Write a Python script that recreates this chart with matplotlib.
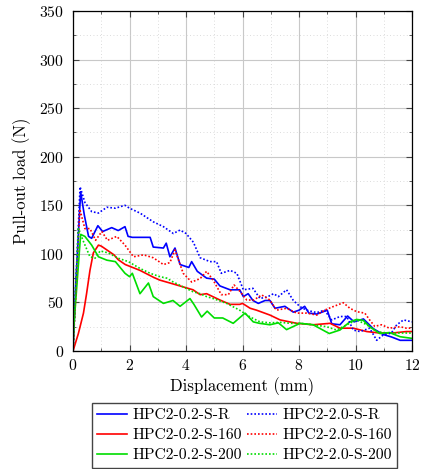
import matplotlib
matplotlib.use("Agg")
import matplotlib.pyplot as plt
from matplotlib.ticker import MultipleLocator

plt.rcParams['font.family'] = 'serif'
plt.rcParams['font.serif'] = ['cmr10']
plt.rcParams['mathtext.fontset'] = 'cm'
plt.rcParams['axes.formatter.use_mathtext'] = True

# HPC2-0.2-S-R
x_02_R = [0, 0.1, 0.27, 0.4, 0.55, 0.66, 0.88, 1.05, 1.37, 1.6, 1.84, 1.95, 2.1, 2.37, 2.73, 2.84,
          3.2, 3.3, 3.43, 3.61, 3.79, 4.1, 4.2, 4.4, 4.73, 5.0, 5.2, 5.56, 5.9, 6.03, 6.2, 6.37,
          6.56, 6.8, 6.97, 7.15, 7.5, 7.8, 8.0, 8.2, 8.35, 8.63, 9.0, 9.16, 9.45, 9.72, 9.95,
          10.28, 10.63, 10.98, 11.27, 11.58, 12]
y_02_R = [0, 70, 164, 140, 118, 116, 129, 123, 127, 124, 128, 118, 117, 117, 117, 107,
          106, 111, 97, 106, 89, 86, 92, 82, 75, 74, 67, 63, 63, 56, 59, 52,
          49, 52, 52, 44, 46, 40, 42, 46, 39, 38, 42, 28, 27, 36, 30,
          33, 23, 17, 14.5, 11, 11]

# HPC2-0.2-S-160
x_02_160 = [0, 0.19, 0.37, 0.48, 0.6, 0.72, 0.9, 1.0, 1.2, 1.45, 1.6, 1.85, 2.37, 2.84, 3.07, 3.43,
            3.9, 4.25, 4.5, 4.73, 5.2, 5.56, 5.9, 6.0, 6.27, 6.5, 6.97, 7.33, 7.92, 8.5, 9.1,
            9.45, 9.92, 10.4, 10.86, 11.3, 11.8, 12]
y_02_160 = [0, 18, 39, 59, 83, 101, 109, 108, 104, 99, 94, 89, 83, 76, 73, 70,
            66, 63, 58, 59, 52.5, 48, 48, 49, 44, 42, 37, 32, 28.5, 27, 28.5,
            23.5, 23.5, 20, 18.5, 18.5, 20, 20]

# HPC2-0.2-S-200
x_02_200 = [0, 0.03, 0.08, 0.27, 0.42, 0.66, 0.9, 1.2, 1.5, 1.84, 2.0, 2.1, 2.37, 2.67, 2.84, 3.2,
            3.54, 3.79, 4.14, 4.28, 4.55, 4.75, 5.0, 5.3, 5.67, 6.09, 6.38, 6.6, 6.97, 7.27,
            7.56, 8.04, 8.5, 9.07, 9.45, 9.8, 10.04, 10.27, 10.5, 10.86, 11.2, 11.58, 12]
y_02_200 = [0, 25, 45, 120, 118, 109, 97, 93.5, 92, 80, 76.5, 80, 59, 70, 56, 49,
            52, 46, 54, 48, 35, 41, 34, 34, 28.5, 39, 30, 28.5, 27, 29,
            22, 28.5, 27, 18, 21.6, 30, 32.5, 31.6, 25, 18, 19, 14.7, 13]

# HPC2-2.0-S-R
x_20_R = [0, 0.1, 0.25, 0.42, 0.66, 0.9, 1.2, 1.5, 1.84, 2.0, 2.37, 2.84, 3.2, 3.55, 3.79, 4.0,
          4.26, 4.5, 4.85, 5.08, 5.25, 5.56, 5.8, 6.03, 6.37, 6.62, 6.9, 7.1, 7.27, 7.56, 7.8,
          8.04, 8.27, 8.63, 8.9, 9.16, 9.45, 9.69, 9.92, 10.16, 10.5, 10.75, 10.98, 11.27,
          11.46, 11.7, 12]
y_20_R = [0, 70, 169, 153, 143.5, 142, 148, 147, 150, 147, 142, 133, 128, 121, 124.5, 121,
          112, 96, 92, 92, 80, 83, 80, 63, 64.5, 54, 56, 59, 56, 63, 52,
          45.6, 42, 39.5, 42, 32, 35.5, 35.5, 21.6, 20, 23.5, 11, 16.5, 18.5,
          27, 32, 30]

# HPC2-2.0-S-160
x_20_160 = [0, 0.1, 0.24, 0.42, 0.6, 0.8, 1.02, 1.22, 1.55, 1.84, 2.14, 2.5, 2.84, 3.2, 3.43, 3.61,
            3.9, 4.2, 4.5, 4.73, 4.96, 5.25, 5.5, 5.7, 5.92, 6.15, 6.4, 6.68, 6.97, 7.2, 7.56,
            7.92, 8.27, 8.63, 8.9, 9.2, 9.57, 9.8, 10.04, 10.33, 10.5, 10.68, 10.92, 11.2,
            11.58, 11.8, 12]
y_20_160 = [0, 60, 146, 126, 126, 114, 123, 114, 118, 109, 97, 99, 96, 89, 91, 104,
            80, 71, 74.5, 82, 73, 58, 58, 68, 61, 52.5, 52.5, 57.7, 52.5, 42, 44,
            39, 39, 37, 42, 45.6, 49.7, 44, 40.5, 39, 32, 25.4, 27, 23.5,
            25, 23.5, 23.5]

# HPC2-2.0-S-200
x_20_200 = [0, 0.08, 0.19, 0.38, 0.6, 0.78, 0.96, 1.25, 1.6, 1.96, 2.37, 2.73, 3.08, 3.32, 3.55,
            3.9, 4.25, 4.5, 4.73, 4.96, 5.44, 5.9, 6.27, 6.62, 6.97, 7.33, 7.68, 8.04, 8.5,
            8.98, 9.33, 9.69, 10.04, 10.4, 10.75, 11.1, 11.58, 12]
y_20_200 = [0, 55, 126, 112, 97, 95.5, 103, 101, 95.5, 92, 85, 80, 76.5, 75, 71,
            66, 61, 59, 56, 54, 49, 42, 35, 30, 29, 29.5, 28.5, 28.5, 27,
            25, 21.6, 27, 32, 27, 20, 18.5, 18.5, 18.5]

blue = '#0000ff'
red = '#ff0000'
green = '#00dd00'
dots = (0, (1, 1.2))

fig = plt.figure(figsize=(4.23, 4.69), dpi=100)
ax = fig.add_axes([0.1726, 0.2516, 0.8014, 0.7249])

ax.plot(x_02_R, y_02_R, color=blue, lw=1.2, label='HPC2-0.2-S-R')
ax.plot(x_02_160, y_02_160, color=red, lw=1.2, label='HPC2-0.2-S-160')
ax.plot(x_02_200, y_02_200, color=green, lw=1.2, label='HPC2-0.2-S-200')
ax.plot(x_20_R, y_20_R, color=blue, lw=1.2, ls=dots, label='HPC2-2.0-S-R')
ax.plot(x_20_160, y_20_160, color=red, lw=1.2, ls=dots, label='HPC2-2.0-S-160')
ax.plot(x_20_200, y_20_200, color=green, lw=1.2, ls=dots, label='HPC2-2.0-S-200')

ax.set_xlim(0, 12)
ax.set_ylim(0, 350)
ax.xaxis.set_major_locator(MultipleLocator(2))
ax.xaxis.set_minor_locator(MultipleLocator(1))
ax.yaxis.set_major_locator(MultipleLocator(50))
ax.yaxis.set_minor_locator(MultipleLocator(25))
ax.grid(which='major', color='#c8c8c8', lw=0.8)
ax.grid(which='minor', color='#d0d0d0', lw=0.6, ls=(0, (1, 3)))
ax.set_axisbelow(True)
ax.tick_params(which='both', direction='in', top=True, right=True, labelsize=11.3,
               color='#444444', pad=5)
ax.tick_params(axis='y', which='both', pad=6.5)
ax.tick_params(which='major', length=4)
ax.tick_params(which='minor', length=2.5)
for s in ax.spines.values():
    s.set_linewidth(0.9)

ax.set_xlabel('Displacement (mm)', fontsize=12, labelpad=3)
ax.set_ylabel('Pull-out load (N)', fontsize=12, labelpad=6)

fig.legend(loc='upper center', bbox_to_anchor=(0.578, 0.141), ncol=2, fontsize=11.3,
           frameon=True, fancybox=False, edgecolor='#444444', framealpha=1,
           handlelength=1.9, columnspacing=0.3, handletextpad=0.35, borderpad=0.35,
           borderaxespad=0, labelspacing=0.38)

fig.savefig('out.png', dpi=100)
